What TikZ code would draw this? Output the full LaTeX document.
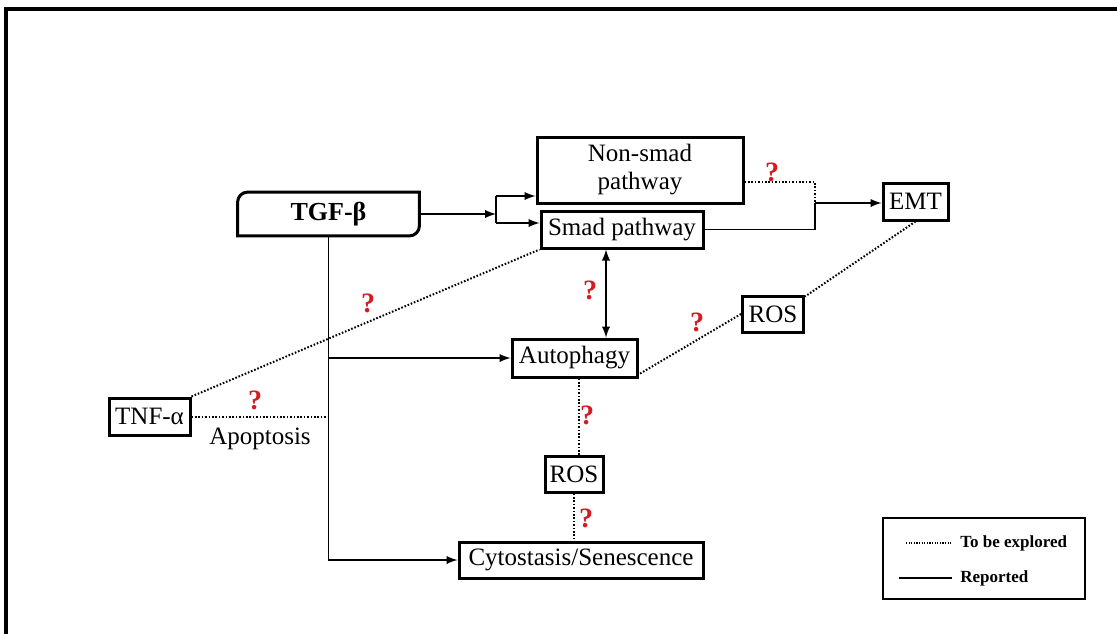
\documentclass[tikz,border=0pt]{standalone}
\usepackage{fontspec}
\setmainfont{Liberation Serif}
\definecolor{qred}{RGB}{215,25,32}
\begin{document}
\begin{tikzpicture}[>=latex,x=0.5pt,y=-0.5pt,
  box/.style={draw,line width=1.5pt,inner sep=1pt,font=\fontsize{12.5}{14}\selectfont},
  link/.style={line width=0.9pt},
  maybe/.style={line width=1pt,dash pattern=on 0.8pt off 0.9pt},
  qmark/.style={text=qred,inner sep=0pt,font=\fontsize{14}{16}\selectfont\bfseries},
  legtext/.style={anchor=west,inner sep=1pt,font=\fontsize{8.5}{10}\selectfont\bfseries}]
\useasboundingbox (0,0) rectangle (1117,633);
\draw[line width=2pt] (5.5,640) -- (5.5,9) -- (1125,9);
% boxes
\node[minimum width=90.5pt,minimum height=21.5pt,inner sep=1pt,font=\fontsize{13}{15}\selectfont\bfseries] (tgf) at (328.5,214) {TGF-β};
\draw[line width=1.5pt] (tgf.south west) -- ([yshift=-5pt]tgf.north west) arc[start angle=180,end angle=90,radius=5pt] -- (tgf.north east) -- ([yshift=5pt]tgf.south east) arc[start angle=0,end angle=-90,radius=5pt] -- cycle;
\node[box,minimum width=103pt,minimum height=33pt,align=center] (nonsmad) at (640,170) {Non-smad\\pathway};
\node[box,minimum width=81pt,minimum height=18.5pt] (smad) at (622,229.5) {Smad pathway};
\node[box,minimum width=32.5pt,minimum height=18.5pt] (emt) at (915.5,201.5) {EMT};
\node[box,minimum width=30.5pt,minimum height=18pt] (rosA) at (773,314) {ROS};
\node[box,minimum width=62.5pt,minimum height=19pt] (auto) at (574.5,358) {Autophagy};
\node[box,minimum width=40.5pt,minimum height=18.5pt] (tnf) at (149.5,416.5) {TNF-α};
\node[box,minimum width=29pt,minimum height=18pt] (rosB) at (574,474) {ROS};
\node[box,minimum width=122pt,minimum height=18pt] (cyto) at (581,560) {Cytostasis/Senescence};
% connectors
\coordinate (split) at (496,211);
\coordinate (brT) at (496,196);
\coordinate (brB) at (496,223);
\coordinate (emtj) at (815,203);
\draw[link,->] (tgf.east) -- (tgf.east -| split);
\draw[link] (brT) -- (brB);
\draw[link,->] (brT) -- (brT -| nonsmad.west);
\draw[link,->] (brB) -- (brB -| smad.west);
\draw[maybe] ([yshift=-6pt]nonsmad.east) -| (emtj);
\draw[link] (smad.east) -| (emtj);
\draw[link,->] (emtj) -- (emtj -| emt.west);
\draw[maybe] (emt.south) -- ([yshift=-1pt]rosA.north east);
\draw[maybe] (rosA.west) -- ([yshift=2pt]auto.south east);
\draw[link,<->] ([xshift=-8pt]smad.south) -- ([xshift=-8pt]smad.south |- auto.north);
\draw[link,->] (tgf.south) |- (cyto.west);
\draw[link,->] (tgf.south |- auto.west) -- (auto.west);
\draw[maybe] (tnf.north east) -- (smad.south west);
\draw[maybe] (tnf.east) -- (tnf.east -| tgf.south) node[midway,below=2pt,font=\fontsize{12.5}{14}\selectfont] (apop) {Apoptosis};
\draw[maybe] ([xshift=2pt]auto.south) -- ([xshift=2pt]auto.south |- rosB.north);
\draw[maybe] (rosB.south) -- (rosB.south |- cyto.north);
% question marks
\node[qmark] (q1) at (772,172) {?};
\node[qmark] (q2) at (590,290) {?};
\node[qmark] (q3) at (697,322) {?};
\node[qmark] (q4) at (368,303) {?};
\node[qmark] (q5) at (255,400) {?};
\node[qmark] (q6) at (587,415) {?};
\node[qmark] (q7) at (586,518) {?};
% legend
\node[draw,line width=0.8pt,minimum width=101pt,minimum height=40.5pt] (legend) at (984,558.5) {};
\node[legtext] (lgdot) at (958,543) {To be explored};
\node[legtext] (lgline) at (958,578) {Reported};
\coordinate (ld) at (906,543);
\coordinate (ll) at (899,578);
\draw[line width=0.6pt,dash pattern=on 0.6pt off 0.7pt,shorten >=3pt] (ld) -- (lgdot.west);
\draw[line width=0.9pt,shorten >=3pt] (ll) -- (lgline.west);
\end{tikzpicture}
\end{document}
